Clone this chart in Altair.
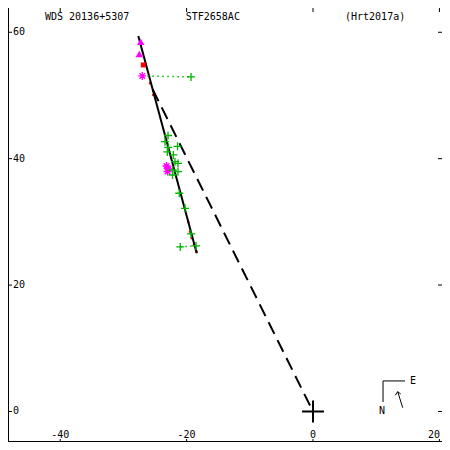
import altair as alt
import pandas as pd

# ---- plot domain (data units, arcsec) ----
X_DOMAIN = [-48.26, 20.41]
Y_DOMAIN = [-4.83, 63.84]

# ---- fitted orbit (nearly edge-on ellipse) ----
orbit_x = [-27.64, -18.40]
orbit_y = [59.41, 25.03]

# ---- line from primary to periastron ----
peri_x = [-25.36, 0.0]
peri_y = [50.95, 0.0]

# ---- micrometric measures (green pluses) ----
plus_x = [-19.30, -22.94, -23.42, -21.44, -22.90, -23.05, -22.10, -21.84,
          -21.36, -22.20, -21.36, -22.23, -21.16, -20.25, -19.30, -21.00, -18.51]
plus_y = [52.93, 43.67, 42.69, 41.96, 41.80, 41.06, 40.59, 39.53,
          39.24, 38.21, 37.94, 37.42, 34.53, 32.15, 28.09, 26.03, 26.19]

# ---- photographic / other measures (magenta asterisks) ----
star_x = [-27.01, -23.18, -22.86, -23.02]
star_y = [53.09, 38.84, 38.37, 37.97]

# ---- magenta triangles ----
tri_x = [-27.26, -27.48]
tri_y = [58.51, 56.57]

# ---- red measure ----
red_x = [-26.85]
red_y = [54.83]

# ---- red O-C residual marks along orbit ----
redpt_x = [-25.79, -25.27, -19.73, -19.46, -19.19, -18.83, -18.40]
redpt_y = [51.93, 50.08, 29.98, 28.45, 27.41, 26.46, 25.28]

# ---- dotted O-C lines (green) ----
oc_x = [-27.01, -21.00]
oc_y = [53.09, 26.03]
oc_x2 = [-19.30, -18.83]
oc_y2 = [52.93, 26.19]

# ---- axes ----
x_ticks = [-40, -20, 0, 20]
x_tick_labels = ["-40", "-20", "0", "20"]
y_ticks = [0, 20, 40, 60]
y_tick_labels = ["0", "20", "40", "60"]

# ---- header texts ----
titles = ["WDS 20136+5307", "STF2658AC", "(Hrt2017a)"]
title_x = [-42.41, -20.14, 5.06]
title_y = [62.42, 62.42, 62.42]

# ---- compass and direction-of-motion arrow ----
comp_x = [11.08, 11.08, 14.19, 13.40, 13.40]
comp_y = [4.83, 4.83, 0.60, 3.13, 3.13]
comp_x2 = [14.56, 11.08, 13.40, 13.02, 13.88]
comp_y2 = [4.83, 1.50, 3.13, 2.56, 2.77]
comp_labels = ["E", "N"]
comp_lx = [15.82, 10.92]
comp_ly = [4.75, 0.08]

GREEN = "#00b400"
MAGENTA = "#ff00ff"
RED = "#ff0000"
FONT = "DejaVu Sans Mono"

PLUS = "M-1,0L1,0M0,-1L0,1"
STAR = "M-1,0L1,0M0,-1L0,1M-0.7,-0.7L0.7,0.7M-0.7,0.7L0.7,-0.7"

xs = alt.Scale(domain=X_DOMAIN, nice=False, zero=False)
ys = alt.Scale(domain=Y_DOMAIN, nice=False, zero=False)


def X(f="x"):
    return alt.X(f + ":Q", scale=xs, axis=None)


def Y(f="y"):
    return alt.Y(f + ":Q", scale=ys, axis=None)


def rules(df, **kw):
    return alt.Chart(df).mark_rule(**kw).encode(
        x=X(), y=Y(), x2=alt.X2("x2"), y2=alt.Y2("y2"))


x0, x1 = X_DOMAIN
y0, y1 = Y_DOMAIN
px = (x1 - x0) / 434.0
py = (y1 - y0) / 434.0

# frame (left and bottom)
frame = pd.DataFrame({
    "x": [x0 + 0.5 * px, x0],
    "y": [y0, y0 + 0.5 * py],
    "x2": [x0 + 0.5 * px, x1],
    "y2": [y1, y0 + 0.5 * py],
})

tick_rows = []
for t in x_ticks:
    tick_rows.append({"x": t, "y": y1, "x2": t, "y2": y1 - 4 * py})
    tick_rows.append({"x": t, "y": y0, "x2": t, "y2": y0 + 3 * py})
for t in y_ticks:
    tick_rows.append({"x": x0, "y": t, "x2": x0 + 4 * px, "y2": t})
    tick_rows.append({"x": x1, "y": t, "x2": x1 - 4 * px, "y2": t})
ticks = pd.DataFrame(tick_rows)

# keep the rightmost label inside the drawing area
xlab_pos = [min(t, x1 - 8 * px) for t in x_ticks]
xlab = pd.DataFrame({"x": xlab_pos, "y": [-3.72] * 4, "t": x_tick_labels})
ylab = pd.DataFrame({"x": [x0 + 5 * px] * 4, "y": y_ticks, "t": y_tick_labels})
head = pd.DataFrame({"x": title_x, "y": title_y, "t": titles})
clab = pd.DataFrame({"x": comp_lx, "y": comp_ly, "t": comp_labels})

layers = [
    rules(frame, color="black", strokeWidth=1),
    rules(ticks, color="black", strokeWidth=1),
    alt.Chart(xlab).mark_text(font=FONT, fontSize=10, align="center", baseline="middle",
                              color="black").encode(x=X(), y=Y(), text="t:N"),
    alt.Chart(ylab).mark_text(font=FONT, fontSize=10, align="left", baseline="middle",
                              color="black").encode(x=X(), y=Y(), text="t:N"),
    alt.Chart(head).mark_text(font=FONT, fontSize=10, align="left", baseline="middle",
                              color="black").encode(x=X(), y=Y(), text="t:N"),
    alt.Chart(pd.DataFrame({"x": peri_x, "y": peri_y})).mark_line(
        color="black", strokeWidth=2, strokeDash=[13, 7]).encode(x=X(), y=Y()),
    alt.Chart(pd.DataFrame({"x": redpt_x, "y": redpt_y})).mark_square(
        color=RED, size=5, opacity=1).encode(x=X(), y=Y()),
    alt.Chart(pd.DataFrame({"x": orbit_x, "y": orbit_y})).mark_line(
        color="black", strokeWidth=2).encode(x=X(), y=Y()),
    rules(pd.DataFrame({"x": oc_x, "y": oc_y, "x2": oc_x2, "y2": oc_y2}),
          color=GREEN, strokeWidth=1.5, strokeDash=[1.5, 3.5]),
    alt.Chart(pd.DataFrame({"x": tri_x, "y": tri_y})).mark_point(
        shape="triangle-up", filled=True, color=MAGENTA, size=55, opacity=1).encode(x=X(), y=Y()),
    alt.Chart(pd.DataFrame({"x": red_x, "y": red_y})).mark_square(
        color=RED, size=25, opacity=1).encode(x=X(), y=Y()),
    alt.Chart(pd.DataFrame({"x": star_x, "y": star_y})).mark_point(
        shape=STAR, filled=False, color=MAGENTA, strokeWidth=1.3, size=64, opacity=1).encode(x=X(), y=Y()),
    alt.Chart(pd.DataFrame({"x": plus_x, "y": plus_y})).mark_point(
        shape=PLUS, filled=False, color=GREEN, strokeWidth=1.3, size=64, opacity=1).encode(x=X(), y=Y()),
    alt.Chart(pd.DataFrame({"x": [0.0], "y": [0.0]})).mark_point(
        shape=PLUS, filled=False, color="black", strokeWidth=2, size=484, opacity=1).encode(x=X(), y=Y()),
    rules(pd.DataFrame({"x": comp_x, "y": comp_y, "x2": comp_x2, "y2": comp_y2}),
          color="black", strokeWidth=1),
    alt.Chart(clab).mark_text(font=FONT, fontSize=10, align="center", baseline="middle",
                              color="black").encode(x=X(), y=Y(), text="t:N"),
]

chart = alt.layer(*layers).properties(
    width=434, height=434, padding=0, autosize="none", background="white"
).configure_view(stroke=None)

chart.save("out.html", embed_options={"renderer": "svg", "actions": False})
